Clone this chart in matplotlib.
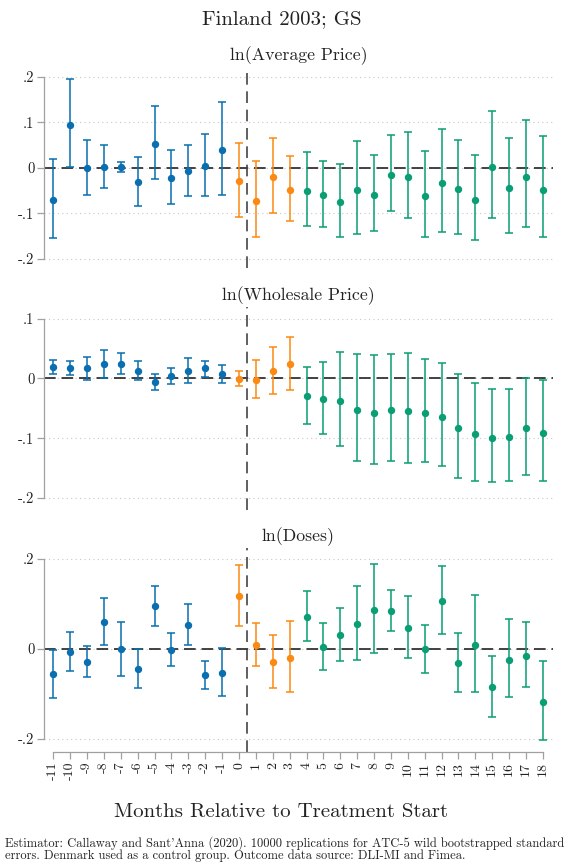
"""Event-study plots: Finland 2003; GS."""
import matplotlib
matplotlib.use("Agg")
import matplotlib.pyplot as plt
from matplotlib.colors import to_rgba
import numpy as np

plt.rcParams["font.family"] = ["cmr10", "DejaVu Serif"]
plt.rcParams["axes.unicode_minus"] = False
plt.rcParams["axes.formatter.use_mathtext"] = False

periods = list(range(-11, 19))

# ln(Average Price)
avg_est = [-0.071, 0.094, 0.000, 0.002, 0.002, -0.031, 0.053, -0.022, -0.007, 0.004,
           0.038, -0.029, -0.072, -0.021, -0.049, -0.051, -0.060, -0.075, -0.049, -0.060,
           -0.015, -0.021, -0.063, -0.034, -0.047, -0.070, 0.001, -0.045, -0.020, -0.049]
avg_lo = [-0.154, 0.002, -0.060, -0.044, -0.010, -0.083, -0.025, -0.079, -0.061, -0.063,
          -0.060, -0.107, -0.151, -0.099, -0.117, -0.128, -0.131, -0.151, -0.146, -0.138,
          -0.095, -0.111, -0.151, -0.140, -0.145, -0.159, -0.111, -0.143, -0.131, -0.152]
avg_hi = [0.019, 0.195, 0.062, 0.049, 0.013, 0.023, 0.135, 0.039, 0.051, 0.074,
          0.145, 0.055, 0.014, 0.066, 0.025, 0.034, 0.015, 0.008, 0.059, 0.028,
          0.072, 0.078, 0.037, 0.085, 0.062, 0.028, 0.124, 0.066, 0.104, 0.069]

# ln(Wholesale Price)
whl_est = [0.019, 0.018, 0.017, 0.024, 0.025, 0.013, -0.006, 0.004, 0.013, 0.017,
           0.007, -0.001, -0.002, 0.013, 0.024, -0.029, -0.035, -0.038, -0.053, -0.057,
           -0.053, -0.055, -0.057, -0.065, -0.083, -0.093, -0.099, -0.098, -0.083, -0.092]
whl_lo = [0.008, 0.006, -0.002, 0.001, 0.008, -0.003, -0.019, -0.009, -0.008, 0.003,
          -0.007, -0.013, -0.033, -0.026, -0.019, -0.076, -0.093, -0.113, -0.138, -0.143,
          -0.138, -0.142, -0.139, -0.147, -0.166, -0.171, -0.174, -0.172, -0.162, -0.172]
whl_hi = [0.031, 0.029, 0.036, 0.047, 0.042, 0.030, 0.008, 0.017, 0.034, 0.029,
          0.022, 0.013, 0.031, 0.053, 0.069, 0.019, 0.027, 0.044, 0.041, 0.040,
          0.041, 0.042, 0.033, 0.026, 0.007, -0.007, -0.017, -0.017, 0.001, -0.003]

# ln(Doses)
dos_est = [-0.057, -0.008, -0.030, 0.059, -0.002, -0.046, 0.094, -0.003, 0.053, -0.059,
           -0.055, 0.117, 0.008, -0.031, -0.021, 0.070, 0.003, 0.030, 0.054, 0.085,
           0.083, 0.045, -0.001, 0.106, -0.032, 0.007, -0.086, -0.025, -0.016, -0.119]
dos_lo = [-0.109, -0.051, -0.064, 0.008, -0.061, -0.088, 0.050, -0.039, 0.007, -0.090,
          -0.106, 0.051, -0.039, -0.088, -0.097, 0.016, -0.048, -0.028, -0.025, -0.010,
          0.039, -0.022, -0.054, 0.033, -0.096, -0.096, -0.152, -0.107, -0.086, -0.203]
dos_hi = [-0.004, 0.036, 0.005, 0.112, 0.059, -0.002, 0.140, 0.034, 0.100, -0.027,
          0.001, 0.185, 0.057, 0.030, 0.061, 0.128, 0.057, 0.090, 0.139, 0.188,
          0.130, 0.116, 0.053, 0.184, 0.034, 0.118, -0.016, 0.065, 0.058, -0.028]

panels = [
    ("ln(Average Price)", avg_est, avg_lo, avg_hi, [0.2, 0.1, 0, -0.1, -0.2],
     [".2", ".1", "0", "-.1", "-.2"], (-0.22, 0.222)),
    ("ln(Wholesale Price)", whl_est, whl_lo, whl_hi, [0.1, 0, -0.1, -0.2],
     [".1", "0", "-.1", "-.2"], (-0.22, 0.12)),
    ("ln(Doses)", dos_est, dos_lo, dos_hi, [0.2, 0, -0.2],
     [".2", "0", "-.2"], (-0.23, 0.224)),
]

BLUE = "#0A6FB0"
ORANGE = "#FA8A14"
GREEN = "#0A9E74"
GRID = "#c8c8c8"
AXIS = "#a0a0a0"

W, H = 571, 863
fig = plt.figure(figsize=(W / 100, H / 100), dpi=100)
boxes = [(66.7, 268), (306.7, 510), (547.7, 752)]
left, right = 44, 553

x = np.array(periods)
for i, ((title, est, lo, hi, yt, ytl, ylim), (top, bot)) in enumerate(zip(panels, boxes)):
    ax = fig.add_axes([left / W, 1 - bot / H, (right - left) / W, (bot - top) / H])
    est, lo, hi = np.array(est), np.array(lo), np.array(hi)

    for t in yt:
        ax.axhline(t, color=GRID, lw=0.8, ls=(0, (1, 3)), zorder=1)
    ax.axhline(0, color="#222222", lw=1.2, ls=(0, (7, 3.5)), zorder=2)
    ax.axvline(0.5, color="#444444", lw=1.2, ls=(0, (7, 4)), zorder=2)

    for mask, c in [(x < 0, BLUE), ((x >= 0) & (x <= 3), ORANGE), (x >= 4, GREEN)]:
        ax.errorbar(x[mask], est[mask], yerr=[est[mask] - lo[mask], hi[mask] - est[mask]],
                    fmt="o", ms=4.3, color=c, ecolor=to_rgba(c, 0.85), elinewidth=1.3,
                    capsize=2.6, capthick=1.3, zorder=3)

    ax.set_xlim(-11.55, 18.6)
    ax.set_ylim(*ylim)
    ax.set_yticks(yt)
    ax.set_yticklabels(ytl, fontsize=10.5)
    ax.tick_params(axis="y", colors=AXIS, labelcolor="#222222", length=5, width=0.9, pad=2)
    for s in ["top", "right"]:
        ax.spines[s].set_visible(False)
    ax.spines["left"].set_color(AXIS)
    ax.spines["left"].set_linewidth(0.9)
    ax.spines["left"].set_bounds(min(yt), max(yt))
    ax.set_title(title, fontsize=12.8, pad=5, color="#222222")

    if i < 2:
        ax.spines["bottom"].set_visible(False)
        ax.set_xticks([])
    else:
        ax.spines["bottom"].set_color(AXIS)
        ax.spines["bottom"].set_linewidth(0.9)
        ax.spines["bottom"].set_bounds(-11, 18)
        ax.set_xticks(periods)
        ax.set_xticklabels([str(p) for p in periods], rotation=90, fontsize=10)
        ax.tick_params(axis="x", colors=AXIS, labelcolor="#222222", length=5, width=0.9, pad=2)

fig.text(0.494, 1 - 19 / H, "Finland 2003; GS", ha="center", va="center",
         fontsize=15, color="#222222")
fig.text(0.492, 1 - 812 / H, "Months Relative to Treatment Start", ha="center",
         va="center", fontsize=15, color="#222222")
fig.text(5 / W, 1 - 849 / H,
         "Estimator: Callaway and Sant'Anna (2020). 10000 replications for ATC-5 wild bootstrapped standard\n"
         "errors. Denmark used as a control group. Outcome data source: DLI-MI and Fimea.",
         ha="left", va="center", fontsize=9, color="#222222", linespacing=1.0)

fig.savefig("out.png", dpi=100)
plt.close(fig)
